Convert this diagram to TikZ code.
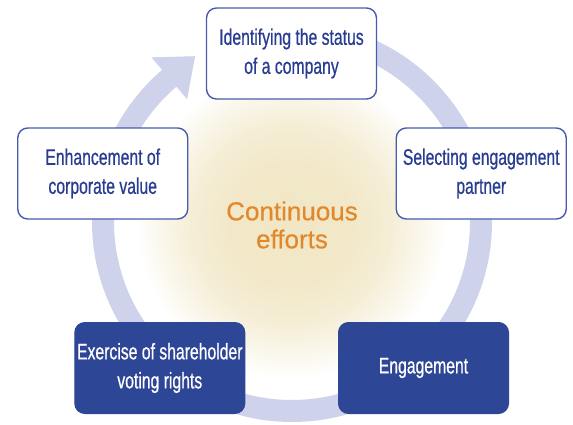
\documentclass[tikz,border=0pt]{standalone}
\usepackage{fontspec}
\setmainfont{Liberation Sans}
\newfontfamily\condfont[FakeStretch=0.7,FakeBold=0.6]{Liberation Sans}
\newfontfamily\centrefont[FakeBold=0.4]{Liberation Sans}
\usetikzlibrary{calc}
\definecolor{ringc}{RGB}{206,210,234}
\definecolor{outlc}{RGB}{72,92,172}
\definecolor{textc}{RGB}{40,60,145}
\definecolor{darkc}{RGB}{46,70,150}
\definecolor{orangec}{RGB}{226,136,42}
\definecolor{glowc}{RGB}{241,231,198}
\pgfdeclareradialshading{glow}{\pgfpoint{0bp}{0bp}}{color(0bp)=(glowc); color(10bp)=(glowc!95!white); color(16bp)=(glowc!72!white); color(21bp)=(glowc!35!white); color(25bp)=(white); color(50bp)=(white)}
\tikzset{
  box/.style={rectangle, rounded corners=10pt, minimum width=170pt, minimum height=91pt,
    inner sep=0pt, align=center, font=\condfont\fontsize{22.5}{29}\selectfont},
  lightbox/.style={box, draw=outlc, line width=1.4pt, fill=white, text=textc},
  darkbox/.style={box, draw=darkc, line width=1pt, fill=darkc, text=white},
  ringline/.style={draw=ringc, line width=22pt},
}
\begin{document}
\begin{tikzpicture}[x=1pt,y=1pt]
\useasboundingbox (0,0) rectangle (573,424);
\fill[white] (0,0) rectangle (573,424);
\begin{scope}
  \clip (0,0) rectangle (573,424);
  \shade[shading=glow] (291,200) circle (155);
\end{scope}
% ring
\coordinate (C) at (292,202);
\coordinate (B) at ($(C)+(130.5:189)$);
\coordinate (tip) at ($(B)+(40.5:34)$);
\coordinate (barbout) at ($(B)+(130.5:27.5)$);
\coordinate (barbin) at ($(B)+(-49.5:27.5)$);
\draw[ringline] ($(C)+(95:189)$) arc[start angle=95, end angle=-229.8, radius=189];
\fill[ringc] (barbout) -- (tip) -- (barbin) -- cycle;
% boxes
\node[lightbox] (status) at (291.5,370.5) {Identifying the status\\of a company};
\node[lightbox] (partner) at (481.25,250.5) {Selecting engagement\\partner};
\node[lightbox] (value) at (102.75,250.5) {Enhancement of\\corporate value};
\node[darkbox] (voting) at (159.8,56) {Exercise of shareholder\\voting rights};
\node[darkbox] (engage) at (423.5,56) {Engagement};
% centre
\node[align=center, text=orangec, font=\centrefont\fontsize{26}{28}\selectfont] (centre) at (292,199) {Continuous\\efforts};
\end{tikzpicture}
\end{document}
